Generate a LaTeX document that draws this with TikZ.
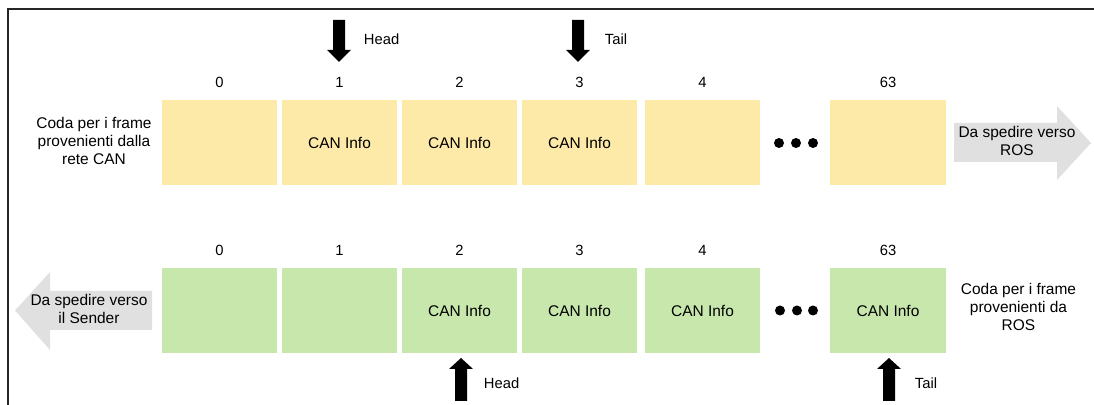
\documentclass[tikz,border=0pt]{standalone}
\usepackage{fontspec}
\setmainfont{Liberation Sans}
\usetikzlibrary{calc, positioning}
\definecolor{rxCell}{RGB}{254, 234, 168}
\definecolor{txCell}{RGB}{199, 231, 173}
\definecolor{sendGray}{RGB}{224, 224, 224}

\begin{document}
\begin{tikzpicture}[x=0.025cm, y=-0.025cm, font=\fontsize{11}{13}\selectfont,
  cell/.style={minimum width=2.875cm, minimum height=2.14cm, inner sep=0pt},
  idx/.style={font=\fontsize{10.5}{12}\selectfont},
  ptr/.style={font=\fontsize{10.5}{12}\selectfont, anchor=west},
  note/.style={align=center, inner sep=0pt}]
  \path[use as bounding box, clip] (0, 0) rectangle (1094, 405);
  \draw[line width=1.5pt, black!85] (1120, 9) -- (8, 9) -- (8, 420);

  % queue filled from the CAN bus
  \node[cell, fill=rxCell] (r0) at (219.5, 142.5) {};
  \node[cell, fill=rxCell] (r1) at (339.5, 142.5) {CAN Info};
  \node[cell, fill=rxCell] (r2) at (459.5, 142.5) {CAN Info};
  \node[cell, fill=rxCell] (r3) at (579.5, 142.5) {CAN Info};
  \node[cell, fill=rxCell] (r4) at (702.5, 142.5) {};
  \node[cell, fill=rxCell] (r63) at (888.0, 142.5) {};
  \node[idx] (ri0) at (219.5, 82) {0};
  \node[idx] (ri1) at (339.5, 82) {1};
  \node[idx] (ri2) at (459.5, 82) {2};
  \node[idx] (ri3) at (579.5, 82) {3};
  \node[idx] (ri4) at (702.5, 82) {4};
  \node[idx] (ri63) at (888.0, 82) {63};
  \foreach \x in {779, 796, 813} \fill (\x, 143) circle (5);

  \node[note] (rxname) at (94, 141) {Coda per i frame\\provenienti dalla\\rete CAN};

  % head / tail of the first queue
  \fill (333, 20) -- (345, 20) -- (345, 50) -- (351, 50) -- (339, 62) -- (327, 50) -- (333, 50) -- cycle;
  \node[ptr] (rhead) at (359, 39) {Head};
  \fill (572, 20) -- (584, 20) -- (584, 50) -- (590, 50) -- (578, 62) -- (566, 50) -- (572, 50) -- cycle;
  \node[ptr] (rtail) at (600, 39) {Tail};

  \fill[sendGray] (954, 123) -- (1057, 123) -- (1057, 106) -- (1091, 143) -- (1057, 180) -- (1057, 162) -- (954, 162) -- cycle;
  \node[note] (toros) at (1017, 141) {Da spedire verso\\ROS};

  % queue filled from ROS
  \node[cell, fill=txCell] (t0) at (219.5, 310.5) {};
  \node[cell, fill=txCell] (t1) at (339.5, 310.5) {};
  \node[cell, fill=txCell] (t2) at (459.5, 310.5) {CAN Info};
  \node[cell, fill=txCell] (t3) at (579.5, 310.5) {CAN Info};
  \node[cell, fill=txCell] (t4) at (702.5, 310.5) {CAN Info};
  \node[cell, fill=txCell] (t63) at (888.0, 310.5) {CAN Info};
  \node[idx] (ti0) at (219.5, 250.5) {0};
  \node[idx] (ti1) at (339.5, 250.5) {1};
  \node[idx] (ti2) at (459.5, 250.5) {2};
  \node[idx] (ti3) at (579.5, 250.5) {3};
  \node[idx] (ti4) at (702.5, 250.5) {4};
  \node[idx] (ti63) at (888.0, 250.5) {63};
  \foreach \x in {780, 797, 813} \fill (\x, 310.5) circle (5);

  \node[note] (txname) at (1018.5, 307) {Coda per i frame\\provenienti da\\ROS};

  % head / tail of the second queue
  \fill (461, 358) -- (473, 369) -- (467, 369) -- (467, 401) -- (455, 401) -- (455, 369) -- (449, 369) -- cycle;
  \node[ptr] (thead) at (479, 383) {Head};
  \fill (889, 358) -- (901, 369) -- (895, 369) -- (895, 401) -- (883, 401) -- (883, 369) -- (877, 369) -- cycle;
  \node[ptr] (ttail) at (910, 383) {Tail};

  \fill[sendGray] (152, 291) -- (50, 291) -- (50, 272) -- (15, 310.5) -- (50, 350) -- (50, 330) -- (152, 330) -- cycle;
  \node[note] (tosender) at (89, 309) {Da spedire verso\\il Sender};
\end{tikzpicture}
\end{document}
